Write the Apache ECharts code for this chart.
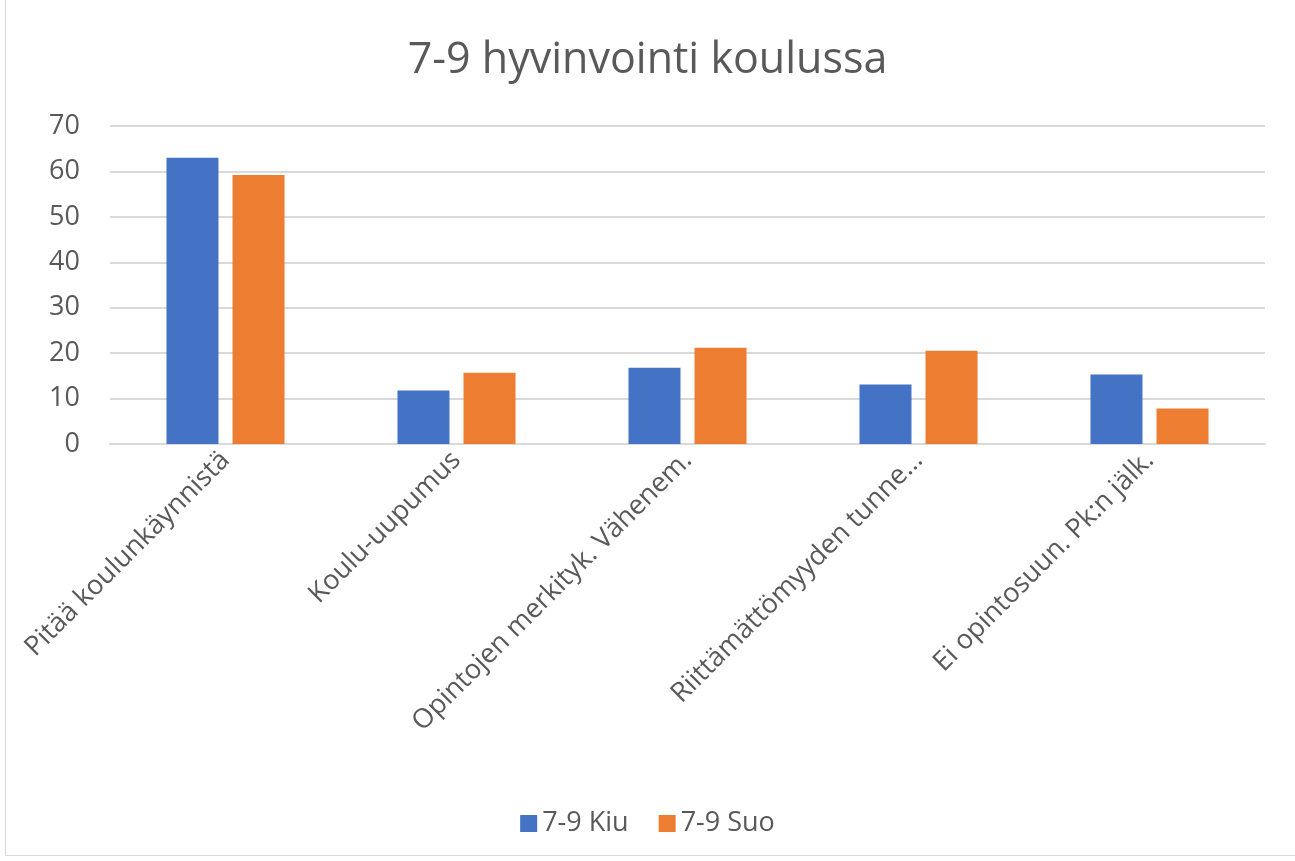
<!DOCTYPE html>
<html>
<head>
<meta charset="utf-8">
<script src="https://cdn.jsdelivr.net/npm/echarts@6/dist/echarts.min.js"></script>
<style>
html,body{margin:0;padding:0;background:#fff;}
#frame{position:absolute;left:5px;top:-2px;width:1300px;height:858px;border:1px solid #d9d9d9;box-sizing:border-box;}
#main{position:absolute;left:0;top:0;width:1295px;height:861px;}
</style>
</head>
<body>
<div id="frame"></div>
<div id="main"></div>
<script>
const title = '7-9 hyvinvointi koulussa';
const categories = ['Pitää koulunkäynnistä', 'Koulu-uupumus', 'Opintojen merkityk. Vähenem.', 'Riittämättömyyden tunne…', 'Ei opintosuun. Pk:n jälk.'];
const seriesNames = ['7-9 Kiu', '7-9 Suo'];
const kiu = [63.0, 11.8, 16.8, 13.1, 15.3];
const suo = [59.2, 15.7, 21.2, 20.5, 7.8];
const yTicks = [0, 10, 20, 30, 40, 50, 60, 70];

const font = '"Open Sans", "Noto Sans", sans-serif';
const chart = echarts.init(document.getElementById('main'), null, {renderer: 'canvas'});
chart.setOption({
  animation: false,
  textStyle: {fontFamily: font},
  title: {
    text: title, left: 'center', top: 34,
    textStyle: {fontFamily: font, fontSize: 43, fontWeight: 'normal', color: '#595959'}
  },
  legend: {
    data: seriesNames, bottom: 19, left: 'center',
    icon: 'rect', itemWidth: 17, itemHeight: 17, itemGap: 30,
    textStyle: {fontFamily: font, fontSize: 27, color: '#595959'}
  },
  grid: {left: 110, right: 30, top: 126, bottom: 417, containLabel: false},
  xAxis: {
    type: 'category', data: categories,
    axisLine: {lineStyle: {color: '#d9d9d9', width: 2}},
    axisTick: {show: false},
    axisLabel: {interval: 0, rotate: 45, margin: 12, fontFamily: font, fontSize: 27, color: '#595959'}
  },
  yAxis: {
    type: 'value', min: yTicks[0], max: yTicks[yTicks.length - 1], interval: 10,
    axisLine: {show: false}, axisTick: {show: false},
    splitLine: {lineStyle: {color: '#d9d9d9', width: 2}},
    axisLabel: {margin: 30, fontFamily: font, fontSize: 27, color: '#595959'}
  },
  series: [
    {name: seriesNames[0], type: 'bar', data: kiu, barWidth: 52, barGap: '27%', itemStyle: {color: '#4472C4'}},
    {name: seriesNames[1], type: 'bar', data: suo, barWidth: 52, barGap: '27%', itemStyle: {color: '#ED7D31'}}
  ]
});
</script>
</body>
</html>
